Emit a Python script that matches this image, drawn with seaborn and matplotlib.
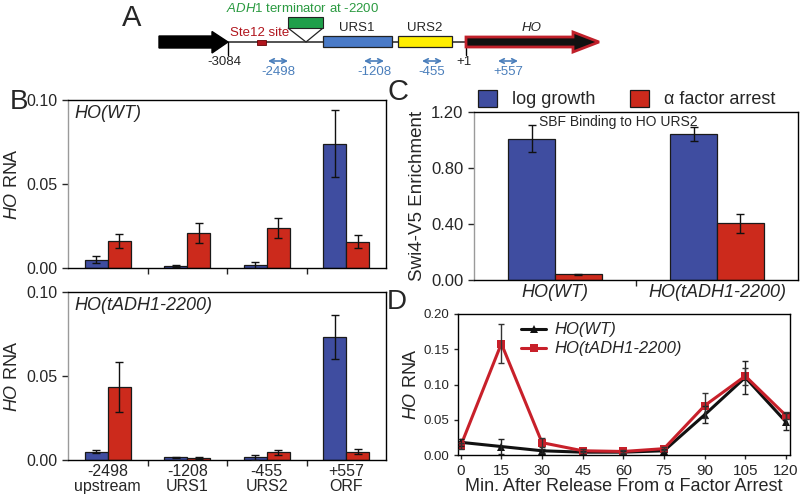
import numpy as np
import pandas as pd
import matplotlib
matplotlib.use("Agg")
import matplotlib.pyplot as plt
import seaborn as sns
from matplotlib.patches import Rectangle, Polygon, Patch
from matplotlib.lines import Line2D

sns.set_theme(style="ticks")
plt.rcParams['font.family'] = ['Liberation Sans', 'DejaVu Sans']
plt.rcParams['mathtext.fontset'] = 'custom'
plt.rcParams['mathtext.rm'] = 'Liberation Sans'
plt.rcParams['mathtext.it'] = 'Liberation Sans:italic'

# ---------------- data ----------------
sites = ["-2498\nupstream", "-1208\nURS1", "-455\nURS2", "+557\nORF"]
conditions = ["log growth", "\u03b1 factor arrest"]

wt_log = [0.005, 0.0012, 0.0015, 0.074]
wt_log_err = [0.002, 0.0004, 0.002, 0.020]
wt_alpha = [0.016, 0.021, 0.024, 0.0157]
wt_alpha_err = [0.004, 0.006, 0.006, 0.004]

adh_log = [0.005, 0.0015, 0.0015, 0.0734]
adh_log_err = [0.0007, 0.0004, 0.0015, 0.013]
adh_alpha = [0.0433, 0.001, 0.0045, 0.005]
adh_alpha_err = [0.015, 0.0005, 0.0015, 0.0015]

strains = ["HO(WT)", "HO(tADH1-2200)"]
swi4_log = [1.01, 1.04]
swi4_log_err = [0.095, 0.05]
swi4_alpha = [0.04, 0.405]
swi4_alpha_err = [0.006, 0.07]

minutes = [0, 15, 30, 45, 60, 75, 90, 105, 120]
ts_wt = [0.018, 0.012, 0.006, 0.004, 0.004, 0.006, 0.057, 0.110, 0.047]
ts_wt_err = [0.005, 0.010, 0.003, 0.002, 0.002, 0.002, 0.012, 0.024, 0.012]
ts_adh = [0.013, 0.158, 0.0175, 0.006, 0.005, 0.009, 0.070, 0.112, 0.056]
ts_adh_err = [0.004, 0.028, 0.006, 0.002, 0.002, 0.002, 0.018, 0.012, 0.005]

BLUE = "#3f4da0"
RED = "#cc2a1c"
LRED = "#c8202a"

W, H = 805, 500
fig = plt.figure(figsize=(W / 100, H / 100), dpi=100)


def rect(l, t, r, b):
    return [l / W, 1 - b / H, (r - l) / W, (b - t) / H]


def style_box(ax, leftgray=True):
    for s in ["top", "right", "bottom", "left"]:
        ax.spines[s].set_visible(True)
        ax.spines[s].set_color("black")
        ax.spines[s].set_linewidth(1.0)
    if leftgray:
        ax.spines["left"].set_color("#9a9a9a")


def barpanel(ax, cats, log, log_err, alpha, alpha_err, width, showlabels, fs):
    n = len(cats)
    df = pd.DataFrame({
        "cat": list(cats) * 2,
        "cond": [conditions[0]] * n + [conditions[1]] * n,
        "val": list(log) + list(alpha),
    })
    sns.barplot(data=df, x="cat", y="val", hue="cond", order=cats,
                hue_order=conditions, palette=[BLUE, RED], width=width,
                errorbar=None, edgecolor="#1a1a1a", linewidth=0.9,
                saturation=1, legend=False, ax=ax)
    for cont, err in zip(ax.containers, [log_err, alpha_err]):
        for p, e in zip(cont, err):
            ax.errorbar(p.get_x() + p.get_width() / 2, p.get_height(), yerr=e,
                        fmt="none", ecolor="#111111", elinewidth=1.0,
                        capsize=3, capthick=1.0, zorder=5)
    ax.set_xlim(-0.5, n - 0.5)
    ax.set_xlabel("")
    ax.set_xticks(np.arange(n))
    ax.set_xticks(np.arange(n - 1) + 0.5, minor=True)
    ax.tick_params(axis="x", which="major", length=0, pad=3)
    ax.tick_params(axis="x", which="minor", length=4, width=1, direction="out", bottom=True)
    if showlabels:
        ax.set_xticklabels(cats, fontsize=fs, linespacing=0.95)
    else:
        ax.set_xticklabels([])
    ax.tick_params(axis="y", length=4, width=1, direction="out", left=True)


# ---------------- Panel A (diagram) ----------------
aA = fig.add_axes([0, 1 - 90 / H, 1, 90 / H])
aA.set_xlim(0, W)
aA.set_ylim(90, 0)
aA.axis("off")
aA.text(132, 18, "A", fontsize=21, ha="center", va="center")
aA.plot([228, 465], [42, 42], color="#444444", lw=1.3, zorder=1)
aA.add_patch(Polygon([(159, 36), (212, 36), (212, 31.5), (228, 42), (212, 53),
                      (212, 48), (159, 48)], closed=True, fc="black", ec="black", zorder=3))
aA.plot([228, 228], [42, 55], color="black", lw=1)
aA.text(224, 62, "-3084", fontsize=9.5, ha="center", va="center")
aA.add_patch(Rectangle((257, 40), 9, 5, fc="#b0141c", ec="#600", lw=0.6, zorder=3))
aA.text(260, 33, "Ste12 site", fontsize=9.5, color="#b0141c", ha="center", va="center")
aA.add_patch(Polygon([(288, 28), (323, 28), (306, 42)], closed=True, fc="white", ec="#222", lw=0.9, zorder=2))
aA.add_patch(Rectangle((288, 17), 35, 11, fc="#1f9f4a", ec="#222", lw=0.8, zorder=3))
aA.text(303, 9, r"$\it{ADH1}$ terminator at -2200", fontsize=9.5, color="#2a9a40", ha="center", va="center")
aA.add_patch(Rectangle((323, 36), 69, 11, fc="#4a7bc8", ec="#222", lw=0.9, zorder=3))
aA.text(357, 28, "URS1", fontsize=9.5, ha="center", va="center")
aA.add_patch(Rectangle((398, 36), 54, 11, fc="#ffee00", ec="#222", lw=0.9, zorder=3))
aA.text(425, 28, "URS2", fontsize=9.5, ha="center", va="center")
aA.add_patch(Polygon([(466, 37), (573, 37), (573, 32), (599, 42), (573, 52), (573, 47),
                      (466, 47)], closed=True, fc="#111", ec="#c0202a", lw=2, zorder=3))
aA.text(532, 28, "HO", fontsize=9.5, style="italic", ha="center", va="center")
aA.plot([466, 466], [48, 55], color="black", lw=1)
aA.text(464, 62, "+1", fontsize=9.5, ha="center", va="center")
for xc, lab in [(278, "-2498"), (374, "-1208"), (432, "-455"), (508, "+557")]:
    aA.annotate("", xy=(xc - 10, 61), xytext=(xc + 10, 61),
                arrowprops=dict(arrowstyle="<->", color="#4a7ebb", lw=1.2,
                                shrinkA=0, shrinkB=0, mutation_scale=8))
    aA.text(xc, 72, lab, fontsize=9.5, color="#4a7ebb", ha="center", va="center")

# ---------------- Panel B ----------------
axB1 = fig.add_axes(rect(68, 100, 386, 268))
barpanel(axB1, sites, wt_log, wt_log_err, wt_alpha, wt_alpha_err, 0.58, False, 11.5)
axB2 = fig.add_axes(rect(68, 292, 386, 460))
barpanel(axB2, sites, adh_log, adh_log_err, adh_alpha, adh_alpha_err, 0.58, True, 11.5)
for ax, lab in [(axB1, "HO(WT)"), (axB2, "HO(tADH1-2200)")]:
    ax.set_ylim(0, 0.10)
    ax.set_yticks([0, 0.05, 0.10])
    ax.set_yticklabels(["0.00", "0.05", "0.10"], fontsize=11.5)
    ax.set_ylabel(r"$\it{HO}$ RNA", fontsize=13, labelpad=4)
    ax.text(0.02, 0.97, lab, transform=ax.transAxes, fontsize=13, style="italic",
            ha="left", va="top")
    style_box(ax)
fig.text(19 / W, 1 - 102 / H, "B", fontsize=20, ha="center", va="center")

# ---------------- Panel C ----------------
axC = fig.add_axes(rect(474, 112, 798, 280))
barpanel(axC, strains, swi4_log, swi4_log_err, swi4_alpha, swi4_alpha_err, 0.575, True, 13)
for t in axC.get_xticklabels():
    t.set_style("italic")
axC.set_ylim(0, 1.2)
axC.set_yticks([0, 0.4, 0.8, 1.2])
axC.set_yticklabels(["0.00", "0.40", "0.80", "1.20"], fontsize=12)
axC.set_ylabel("Swi4-V5 Enrichment", fontsize=13.5, labelpad=4)
style_box(axC)
fig.text(618 / W, 1 - 122 / H, "SBF Binding to HO URS2", fontsize=10, ha="center", va="center")
handles = [Patch(fc=BLUE, ec="#1a1a1a", lw=0.9), Patch(fc=RED, ec="#1a1a1a", lw=0.9)]
axC.legend(handles, conditions, loc="lower left", bbox_to_anchor=(0.0, 1.0), ncol=2,
           frameon=False, fontsize=13, handlelength=1.1, handleheight=1.1,
           borderaxespad=0.1, borderpad=0.1, columnspacing=1.9, handletextpad=0.8)
fig.text(398 / W, 1 - 92 / H, "C", fontsize=21, ha="center", va="center")

# ---------------- Panel D ----------------
axD = fig.add_axes(rect(458, 314, 790, 455))
dfd = pd.DataFrame({
    "min": minutes * 2,
    "val": ts_wt + ts_adh,
    "strain": [strains[0]] * len(minutes) + [strains[1]] * len(minutes),
})
sns.lineplot(data=dfd, x="min", y="val", hue="strain", style="strain",
             hue_order=strains, style_order=strains, markers=["^", "s"],
             dashes=False, palette=["#111111", LRED], linewidth=2.2,
             markersize=6, markeredgewidth=0, ax=axD, legend=False)
axD.errorbar(minutes, ts_wt, yerr=ts_wt_err, fmt="none", ecolor="#222", elinewidth=1,
             capsize=2.5, capthick=1, zorder=4)
axD.errorbar(minutes, ts_adh, yerr=ts_adh_err, fmt="none", ecolor="#333", elinewidth=1,
             capsize=2.5, capthick=1, zorder=4)
axD.set_xlim(-1, 121.5)
axD.set_ylim(0, 0.20)
axD.set_xticks(minutes)
axD.set_xticklabels([str(m) for m in minutes], fontsize=11)
axD.set_yticks([0, 0.05, 0.10, 0.15, 0.20])
axD.set_yticklabels(["0.00", "0.05", "0.10", "0.15", "0.20"], fontsize=9.5)
axD.tick_params(axis="both", length=3, width=1, direction="out", left=True, bottom=True)
axD.set_xlabel("Min. After Release From \u03b1 Factor Arrest", fontsize=13, labelpad=0)
axD.set_ylabel(r"$\it{HO}$ RNA", fontsize=13, labelpad=2)
style_box(axD, leftgray=False)
dh = [Line2D([], [], color="#111111", marker="^", lw=2.2, ms=6, mew=0),
      Line2D([], [], color=LRED, marker="s", lw=2.2, ms=6, mew=0)]
axD.legend(dh, strains, loc="upper left", bbox_to_anchor=(0.165, 1.0), frameon=False,
           prop={"style": "italic", "size": 12}, handlelength=1.5, handletextpad=0.5,
           labelspacing=0.25, borderaxespad=0.1)
fig.text(397 / W, 1 - 302 / H, "D", fontsize=20, ha="center", va="center")

fig.savefig("out.png", dpi=100)
